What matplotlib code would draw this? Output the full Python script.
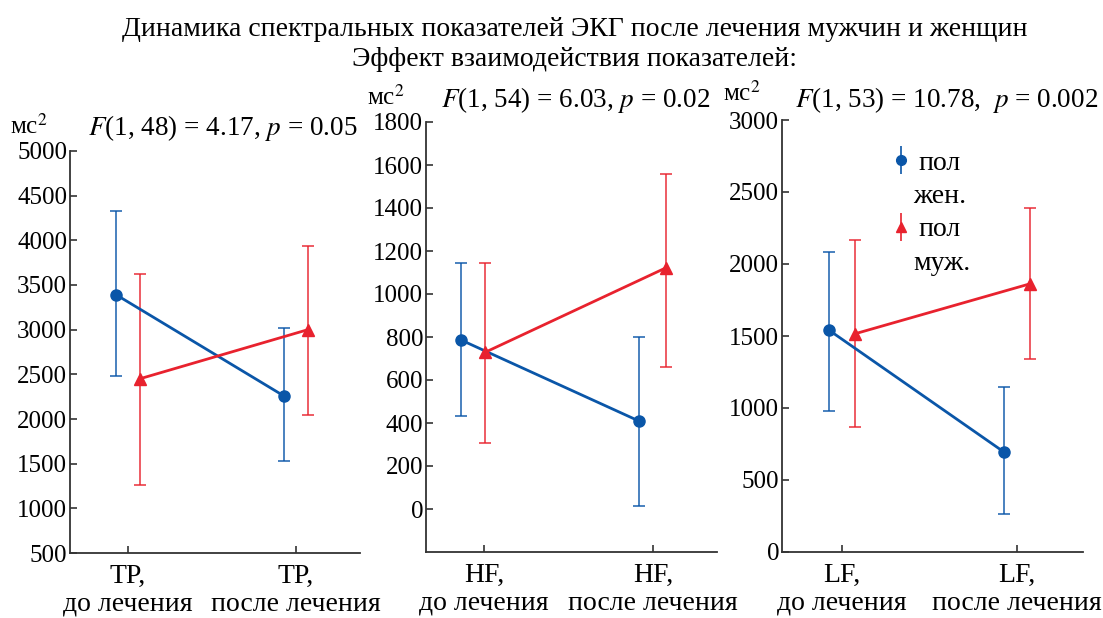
import numpy as np
import matplotlib.pyplot as plt
from matplotlib.lines import Line2D

plt.rcParams["font.family"] = ["Liberation Serif", "DejaVu Serif"]
plt.rcParams["mathtext.fontset"] = "stix"

W, H = 1103, 618

# data
phases = ["до лечения", "после лечения"]
indices = ["TP", "HF", "LF"]

tp_women = [3390, 2255]
tp_women_lo = [2485, 1525]
tp_women_hi = [4325, 3020]
tp_men = [2450, 3000]
tp_men_lo = [1265, 2050]
tp_men_hi = [3625, 3940]

hf_women = [787, 410]
hf_women_lo = [433, 15]
hf_women_hi = [1142, 798]
hf_men = [729, 1121]
hf_men_lo = [309, 660]
hf_men_hi = [1142, 1560]

lf_women = [1540, 696]
lf_women_lo = [980, 265]
lf_women_hi = [2080, 1148]
lf_men = [1516, 1862]
lf_men_lo = [866, 1337]
lf_men_hi = [2165, 2387]

f_texts = [
    r"$F$(1, 48) = 4.17, $p$ = 0.05",
    r"$F$(1, 54) = 6.03, $p$ = 0.02",
    r"$F$(1, 53) = 10.78,  $p$ = 0.002",
]

BLUE = "#0a56a8"
RED = "#e8222e"
FS_TICK = 18
FS_TEXT = 20
FS_STAT = 19.5


def px_rect(left, top, right, bottom):
    return [left / W, 1 - bottom / H, (right - left) / W, (bottom - top) / H]


def draw_panel(ax, name, women, w_lo, w_hi, men, m_lo, m_hi, ylim, yticks,
               w_dx, m_dx):
    x = np.arange(2)
    women = np.array(women)
    men = np.array(men)
    w_err = [women - np.array(w_lo), np.array(w_hi) - women]
    m_err = [men - np.array(m_lo), np.array(m_hi) - men]

    ax.plot(x + np.array(w_dx), women, color=BLUE, lw=2.0, zorder=3)
    ax.plot(x + np.array(m_dx), men, color=RED, lw=2.0, zorder=3)
    ax.errorbar(x + np.array(w_dx), women, yerr=w_err, fmt="none",
                ecolor=BLUE, alpha=0.8, elinewidth=1.3, capsize=4.5,
                capthick=1.3, zorder=2)
    ax.errorbar(x + np.array(m_dx), men, yerr=m_err, fmt="none",
                ecolor=RED, alpha=0.8, elinewidth=1.3, capsize=4.5,
                capthick=1.3, zorder=2)
    ax.plot(x + np.array(w_dx), women, "o", color=BLUE, ms=8, zorder=4)
    ax.plot(x + np.array(m_dx), men, "^", color=RED, ms=8, zorder=4)

    ax.set_xlim(-0.345, 1.38)
    ax.set_ylim(*ylim)
    ax.set_yticks(yticks)
    ax.set_xticks(x)
    ax.set_xticklabels([f"{name},\n{p}" for p in phases], fontsize=FS_TEXT,
                       linespacing=1.15)
    ax.tick_params(axis="y", labelsize=FS_TICK, direction="in", length=5,
                   width=1.2, color="#333333", pad=2)
    ax.tick_params(axis="x", direction="in", length=5, width=1.2,
                   color="#333333", pad=8)
    for s in ["top", "right"]:
        ax.spines[s].set_visible(False)
    for s in ["left", "bottom"]:
        ax.spines[s].set_color("#333333")
        ax.spines[s].set_linewidth(1.3)


def main():
    fig = plt.figure(figsize=(W / 100, H / 100), dpi=100)

    ax1 = fig.add_axes(px_rect(70, 151, 360, 553))
    ax2 = fig.add_axes(px_rect(426, 122, 717, 552))
    ax3 = fig.add_axes(px_rect(782, 120, 1083, 552))

    draw_panel(ax1, indices[0], tp_women, tp_women_lo, tp_women_hi,
               tp_men, tp_men_lo, tp_men_hi, (500, 5000),
               np.arange(500, 5001, 500), [-0.07, -0.07], [0.07, 0.07])
    draw_panel(ax2, indices[1], hf_women, hf_women_lo, hf_women_hi,
               hf_men, hf_men_lo, hf_men_hi, (-200, 1800),
               np.arange(0, 1801, 200), [-0.14, -0.085], [0.006, 0.075])
    draw_panel(ax3, indices[2], lf_women, lf_women_lo, lf_women_hi,
               lf_men, lf_men_lo, lf_men_hi, (0, 3000),
               np.arange(0, 3001, 500), [-0.075, -0.075], [0.075, 0.075])

    fig.text(575 / W, 1 - 29 / H,
             "Динамика спектральных показателей ЭКГ после лечения мужчин и женщин",
             ha="center", va="center", fontsize=FS_TEXT)
    fig.text(575 / W, 1 - 59 / H, "Эффект взаимодействия показателей:",
             ha="center", va="center", fontsize=FS_TEXT)

    for (ux, uy), (fx, fy), txt in zip(
            [(10, 126), (367, 97), (723, 93)],
            [(88, 128), (441, 100), (795, 100)], f_texts):
        fig.text(ux / W, 1 - uy / H, "мс$^2$", ha="left", va="center",
                 fontsize=FS_TICK)
        fig.text(fx / W, 1 - fy / H, txt, ha="left", va="center",
                 fontsize=FS_STAT)

    blue_h = ax3.errorbar([], [], yerr=[], fmt="o", color=BLUE, ms=7,
                          elinewidth=1.2, capsize=3.5, capthick=1.2)
    red_h = ax3.errorbar([], [], yerr=[], fmt="^", color=RED, ms=7,
                         elinewidth=1.2, capsize=3.5, capthick=1.2)
    blank = Line2D([], [], linestyle="none")
    leg = ax3.legend([blue_h, blank, red_h, blank],
                     ["пол", "жен.", "пол", "муж."],
                     loc="upper left", bbox_to_anchor=(0.33, 0.955),
                     frameon=False, fontsize=FS_TEXT, handlelength=0.6,
                     handletextpad=0.35, labelspacing=0.28, borderaxespad=0)
    leg.get_texts()[1].set_position((-6, 0))
    leg.get_texts()[3].set_position((-6, 0))

    fig.savefig("out.png", dpi=100)


if __name__ == "__main__":
    main()
